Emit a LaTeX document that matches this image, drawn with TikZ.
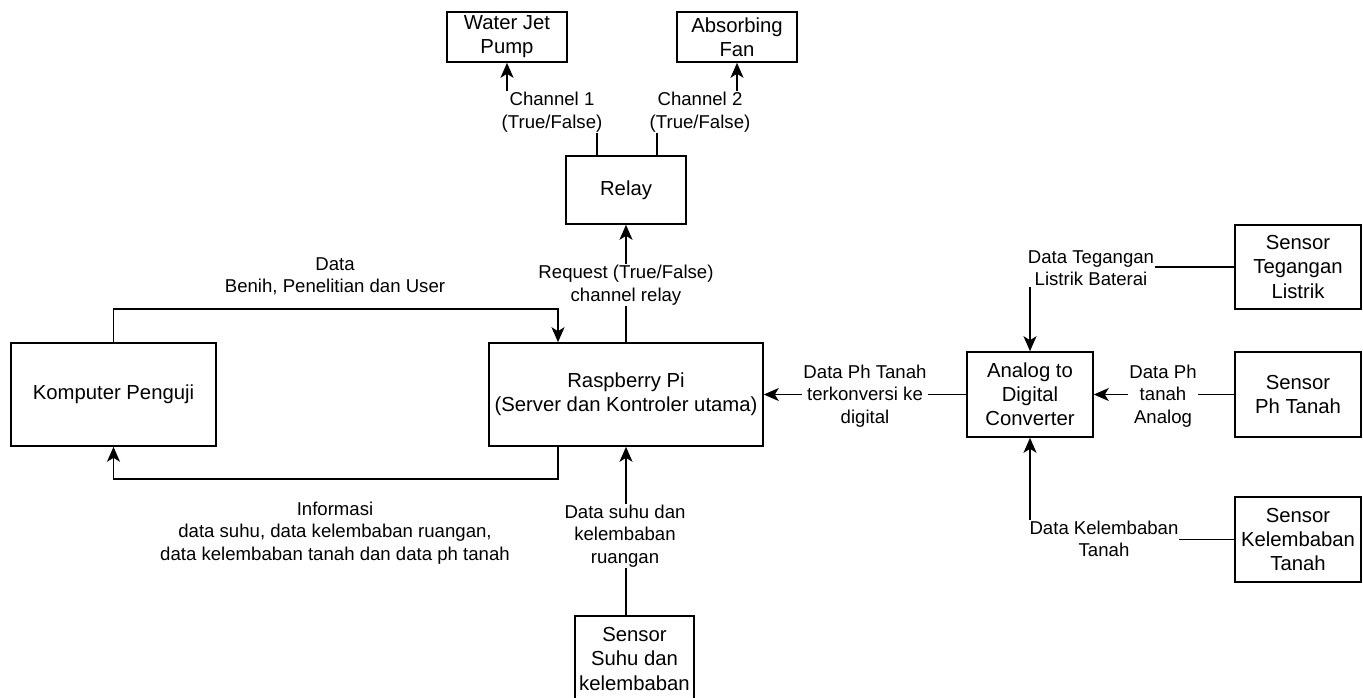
\documentclass[tikz,border=0pt]{standalone}
\usepackage{fontspec}
\setmainfont{Liberation Sans}
\usetikzlibrary{arrows.meta}
\tikzset{
  box/.style={draw, line width=1.6pt, align=center, inner sep=2pt,
    font=\fontsize{20.3}{24.2}\selectfont},
  lbl/.style={fill=white, align=center, inner sep=1pt,
    font=\fontsize{18.6}{22.4}\selectfont},
  arr/.style={line width=1.6pt, -{Stealth[length=15pt,width=13pt,inset=4pt]}},
  ln/.style={line width=1.6pt}
}
\begin{document}
\begin{tikzpicture}[x=1pt,y=-1pt]
\clip (0,0) rectangle (1363,697);
\fill[white] (0,0) rectangle (1363,697);
% boxes
\node[box, minimum width=120pt, minimum height=50pt] (pump) at (507,37) {Water Jet\\Pump};
\node[box, minimum width=120pt, minimum height=50pt] (fan) at (737,37) {Absorbing\\Fan};
\node[box, minimum width=120pt, minimum height=68pt] (relay) at (626,190) {Relay};
\node[box, minimum width=205pt, minimum height=103pt] (komp) at (113.5,394.5) {Komputer Penguji};
\node[box, minimum width=274pt, minimum height=103pt] (rpi) at (626,394.5) {Raspberry Pi\\(Server dan Kontroler utama)};
\node[box, minimum width=126pt, minimum height=85pt] (adc) at (1030,394.5) {Analog to\\Digital\\Converter};
\node[box, minimum width=126pt, minimum height=84pt] (stl) at (1298,267) {Sensor\\Tegangan\\Listrik};
\node[box, minimum width=126pt, minimum height=85pt] (sph) at (1298,394.5) {Sensor\\Ph Tanah};
\node[box, minimum width=126pt, minimum height=85pt] (skt) at (1298,539.5) {Sensor\\Kelembaban\\Tanah};
\node[box, minimum width=119pt, minimum height=86pt] (ssk) at (634.5,659) {Sensor\\Suhu dan\\kelembaban};
% bend points
\coordinate (c1a) at (597,111);
\coordinate (c1b) at (507,111);
\coordinate (c2a) at (657,111);
\coordinate (c2b) at (737,111);
\coordinate (t1) at (558,309);
\coordinate (b1) at (558,479);
% connectors
\draw[arr] (relay.north -| c1a) -- (c1a) -- (c1b) -- (pump.south);
\draw[arr] (relay.north -| c2a) -- (c2a) -- (c2b) -- (fan.south);
\draw[arr] (rpi.north) -- (relay.south);
\draw[arr] (komp.north) |- (t1) -- (t1 |- rpi.north);
\draw[arr] (b1 |- rpi.south) -- (b1) -| (komp.south);
\draw[arr] (ssk.north -| rpi.south) -- (rpi.south);
\draw[arr] (adc.west) -- (adc.west -| rpi.east);
\draw[arr] (stl.west) -| (adc.north);
\draw[arr] (sph.west) -- (adc.east);
\draw[arr] (skt.west) -| (adc.south);
% labels
\node[lbl] (l1) at (552,112) {Channel 1\\(True/False)};
\node[lbl] (l2) at (700,112) {Channel 2\\(True/False)};
\node[lbl] (l3) at (626,285) {Request (True/False)\\channel relay};
\node[lbl, fill=none] (l4) at (335,276) {Data\\Benih, Penelitian dan User};
\node[lbl, fill=none] (l5) at (335,533) {Informasi\\data suhu, data kelembaban ruangan,\\data kelembaban tanah dan data ph tanah};
\node[lbl] (l6) at (625,536) {Data suhu dan\\kelembaban\\ruangan};
\node[lbl] (l7) at (865,396) {Data Ph Tanah\\terkonversi ke\\digital};
\node[lbl] (l8) at (1091,268) {Data Tegangan\\Listrik Baterai};
\node[lbl] (l9) at (1163,396) {Data Ph\\tanah\\Analog};
\node[lbl] (l10) at (1104,539) {Data Kelembaban\\Tanah};
\end{tikzpicture}
\end{document}
